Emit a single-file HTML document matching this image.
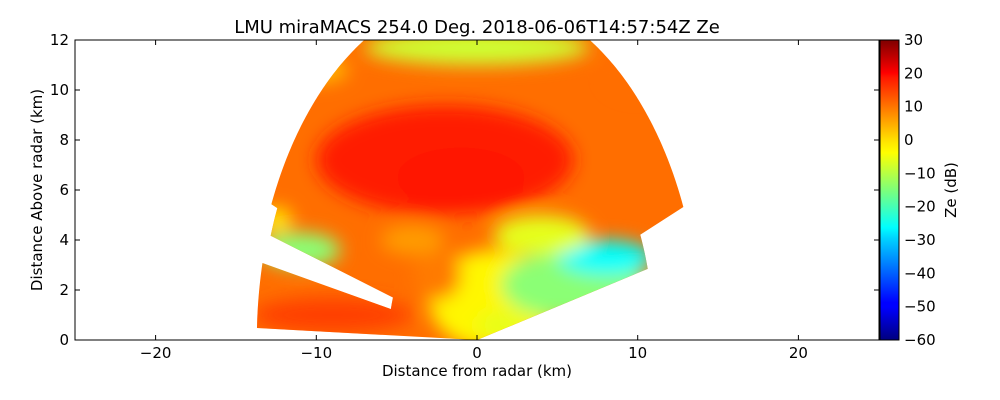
<!DOCTYPE html>
<html><head><meta charset="utf-8"><style>
body{margin:0;background:#fff}
svg{display:block;font-family:"DejaVu Sans","Liberation Sans",sans-serif}
</style></head><body>
<svg id="chart" width="1000" height="400" viewBox="0 0 1000 400">
<defs>
<filter id="blur" x="-20%" y="-20%" width="140%" height="140%"><feGaussianBlur stdDeviation="9"/></filter>
<clipPath id="plotclip"><rect x="75" y="40" width="804" height="300"/></clipPath>
<clipPath id="dataclip"><path id="dataclipPath" d=""/></clipPath>
<linearGradient id="jetgrad" x1="0" y1="1" x2="0" y2="0">
<stop offset="0" stop-color="#00007f"/><stop offset="0.11" stop-color="#0000ff"/><stop offset="0.125" stop-color="#0000ff"/>
<stop offset="0.34" stop-color="#00d4ff"/><stop offset="0.375" stop-color="#00ffff"/><stop offset="0.5" stop-color="#7dff7a"/>
<stop offset="0.625" stop-color="#ffff00"/><stop offset="0.66" stop-color="#ffe600"/><stop offset="0.875" stop-color="#ff1800"/>
<stop offset="0.89" stop-color="#ff0000"/><stop offset="1" stop-color="#7f0000"/></linearGradient>
</defs>
<text x="477" y="33" text-anchor="middle" font-size="18">LMU miraMACS 254.0 Deg. 2018-06-06T14:57:54Z  Ze</text>
<g clip-path="url(#plotclip)"><g clip-path="url(#dataclip)">
<rect id="base" x="75" y="40" width="804" height="300"/>
<g id="field" filter="url(#blur)"></g>
</g></g>
<rect x="75" y="40" width="804" height="300" fill="none" stroke="#000" stroke-width="1"/>
<g id="axes"></g>
<rect x="880" y="40" width="19" height="300" fill="url(#jetgrad)" stroke="#000"/>
<text transform="translate(956,190) rotate(-90)" text-anchor="middle" font-size="15">Ze (dB)</text>
<text x="477" y="376" text-anchor="middle" font-size="15">Distance from radar (km)</text>
<text transform="translate(42,190) rotate(-90)" text-anchor="middle" font-size="15">Distance Above radar  (km)</text>
</svg>
<script>
const xTicks=[-20,-10,0,10,20];
const yTicks=[0,2,4,6,8,10,12];
const cbTicks=[-60,-50,-40,-30,-20,-10,0,10,20,30];
const baseDb=9;
// blobs: centerX km, centerY km, radiusX km, radiusY km, dB
const blobCx=[-2,-1,1,-2.5,6,8,-11,-12.5,-9,0,-10,10,1.5,4,-4];
const blobCy=[7.2,6.5,1.6,2.6,2.2,3.3,3.6,4.8,1.0,11.7,10.8,10.6,0.6,4.2,4];
const blobRx=[8,4,4,1.5,4.5,3,2.5,1,5,7,2,2,1.5,3,2];
const blobRy=[2.2,1.2,2.0,1.0,1.4,0.7,0.7,0.5,0.7,0.7,0.5,0.8,0.5,0.8,0.6];
const blobDb=[16,17,-3,8,-14,-26,-14,-2,13,-8,2,9,-6,-6,5];
const sx=v=>477+v*16.07, sy=v=>340-v*25;
function jet(db){let t=(db+60)/90;t=Math.max(0,Math.min(1,t));
 const f=(a)=>Math.max(0,Math.min(1,1.5-Math.abs(4*t-a)));
 const c=[f(3),f(2),f(1)].map(v=>Math.round(v*255));return `rgb(${c})`;}
function sector(a0,a1,r){const p=[[sx(0),sy(0)]];for(let a=a0;a<=a1+1e-9;a+=0.5){const t=a*Math.PI/180;p.push([sx(r*Math.cos(t)),sy(r*Math.sin(t))]);}
 return 'M'+p.map(q=>q.join(',')).join('L')+'Z';}
document.getElementById('dataclipPath').setAttribute('d',[sector(22.5,157,13.9),sector(15,22.5,11),sector(157,162,13.5),sector(162,167,5.5),sector(167,178,13.7)].join(' '));
document.getElementById('base').setAttribute('fill',jet(baseDb));
const field=document.getElementById('field');
const NS='http://www.w3.org/2000/svg';
for(let i=0;i<blobCx.length;i++){
 const e=document.createElementNS(NS,'ellipse');
 
 
 e.setAttribute('cx',sx(blobCx[i]));e.setAttribute('cy',sy(blobCy[i]));
 e.setAttribute('rx',blobRx[i]*16.07);e.setAttribute('ry',blobRy[i]*25);
 e.setAttribute('fill',jet(blobDb[i]));field.appendChild(e);}
const ax=document.getElementById('axes');
function add(tag,attrs,txt){const e=document.createElementNS(NS,tag);for(const k in attrs)e.setAttribute(k,attrs[k]);if(txt!==undefined)e.textContent=txt;ax.appendChild(e);return e;}
const fmt=v=>String(v).replace('-','\u2212');
xTicks.forEach(v=>{const x=sx(v);
 let t=add('line',{x1:x,x2:x,y1:340,y2:335,stroke:'#000'});
 
 
 add('line',{x1:x,x2:x,y1:40,y2:45,stroke:'#000'});
 let l=add('text',{x:x,y:358,'text-anchor':'middle','font-size':15},fmt(v));
 
 });
yTicks.forEach(v=>{const y=sy(v);
 let t=add('line',{x1:75,x2:80,y1:y,y2:y,stroke:'#000'});
 
 
 add('line',{x1:874,x2:879,y1:y,y2:y,stroke:'#000'});
 let l=add('text',{x:69,y:y+5,'text-anchor':'end','font-size':15},v);
 
 });
cbTicks.forEach(v=>{const y=340-(v+60)/90*300;
 add('line',{x1:880,x2:884,y1:y,y2:y,stroke:'#000'});add('line',{x1:895,x2:899,y1:y,y2:y,stroke:'#000'});
 let l=add('text',{x:904,y:y+5,'font-size':15},fmt(v));
 
 });
</script>
</body></html>
